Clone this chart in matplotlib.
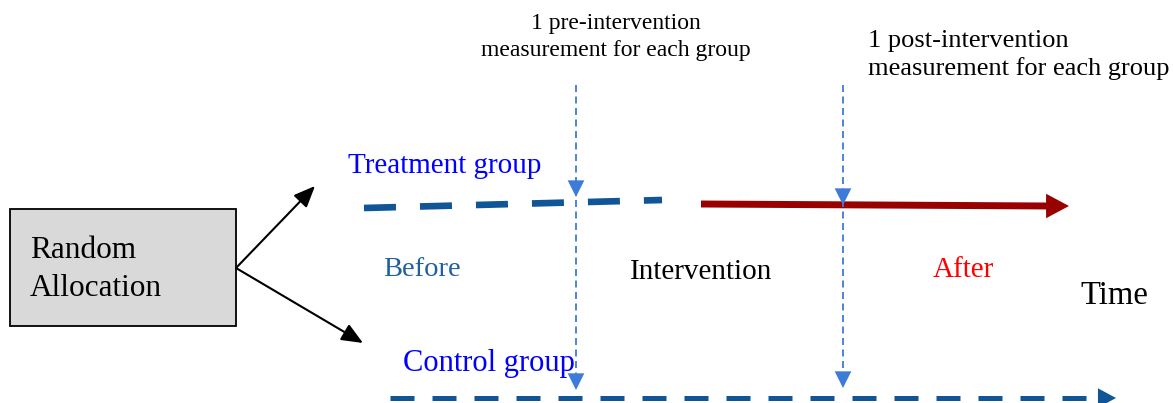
import matplotlib
matplotlib.use("Agg")
import matplotlib.pyplot as plt
from matplotlib.patches import Rectangle, FancyArrowPatch

W, H = 1173, 403
plt.rcParams['font.family'] = ['Liberation Serif', 'DejaVu Serif']
plt.rcParams['lines.scale_dashes'] = False

# diagram content
box_label = ["Random", "Allocation"]
group_labels = ["Treatment group", "Control group"]
phase_labels = ["Before", "Intervention", "After"]
axis_label = "Time"
measure_labels = ["1 pre-intervention\nmeasurement for each group",
                  "1 post-intervention\nmeasurement for each group"]

fig = plt.figure(figsize=(W / 100, H / 100), dpi=100)
ax = fig.add_axes([0, 0, 1, 1])
ax.set_xlim(0, W)
ax.set_ylim(H, 0)
ax.axis('off')

DARKBLUE = '#105596'
LIGHTBLUE = '#3c7bd8'
RED = '#990000'
PX = 0.72  # points per pixel at 100 dpi


def head(p0, p1, color, hl, hw, lw=0, z=3):
    ax.add_patch(FancyArrowPatch(p0, p1, arrowstyle=f'-|>,head_length={hl},head_width={hw}',
                                 mutation_scale=1.0, color=color, lw=lw, shrinkA=0, shrinkB=0,
                                 zorder=z))


# box
ax.add_patch(Rectangle((10, 209), 226, 117, facecolor='#d9d9d9', edgecolor='black', lw=1.3))
ax.text(30, 250, box_label[0], fontsize=22.5, va='center', ha='left')
ax.text(30, 288, box_label[1], fontsize=22.5, va='center', ha='left')

# allocation arrows
for end in [(315, 186), (363, 343)]:
    head((236, 268), end, 'black', 13, 5.5, lw=1.5)

# treatment line before (dashed): 32px dashes, 24px gaps
ax.plot([364, 662], [208, 200], color=DARKBLUE, lw=4.8, dashes=(32 * PX, 24 * PX),
        dash_capstyle='butt')
# treatment after (solid red arrow)
ax.plot([701, 1048], [204, 206], color=RED, lw=5, solid_capstyle='butt')
head((1040, 206), (1069, 206), RED, 16.5, 8.8)

# control line: 24px dashes, 18px gaps
ax.plot([390, 1098], [398, 398], color=DARKBLUE, lw=3.6, dashes=(24 * PX, 18 * PX),
        dash_capstyle='butt')
head((1094, 398), (1116, 398), DARKBLUE, 13, 7)

# measurement dashed vertical lines with arrowheads
for x, tips in [(576, (197, 390)), (843, (205, 388))]:
    ax.plot([x, x], [85, tips[1] - 8], color=LIGHTBLUE, lw=1.3, dashes=(7 * PX, 4.5 * PX), zorder=4)
    for t in tips:
        head((x, t - 18), (x, t), LIGHTBLUE, 12, 6, z=5)

# texts
ax.text(348, 166, group_labels[0], fontsize=21, color='#0000ff', va='center', ha='left')
ax.text(403, 364, group_labels[1], fontsize=22, color='#0000ff', va='center', ha='left')
ax.text(383, 270, phase_labels[0], fontsize=20.5, color='#1f5fa0', va='center', ha='left')
ax.text(630, 272, phase_labels[1], fontsize=21, color='black', va='center', ha='left')
ax.text(933, 270, phase_labels[2], fontsize=21, color='#ff0000', va='center', ha='left')
ax.text(1080, 296, axis_label, fontsize=23.5, color='black', va='center', ha='left')
ax.text(616, 37, measure_labels[0], fontsize=17, color='black', va='center', ha='center',
        linespacing=1.39)
ax.text(868, 55, measure_labels[1], fontsize=19, color='black', va='center', ha='left',
        linespacing=1.33)

fig.savefig('out.png', dpi=100)
